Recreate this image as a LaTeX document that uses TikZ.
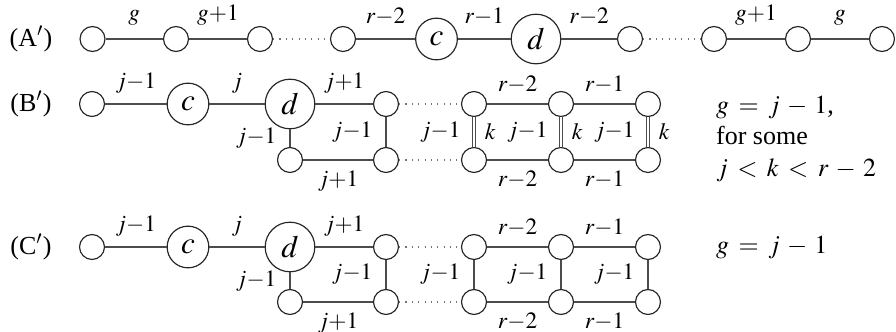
\documentclass[tikz,border=0pt]{standalone}
\usepackage{mathptmx}
\usepackage{fontspec}
\setmainfont{Liberation Serif}
\tikzset{
  vtx/.style={circle, draw=black!85, line width=0.45pt, minimum size=9.6pt, inner sep=0pt},
  big/.style={circle, draw=black!85, line width=0.45pt, inner sep=3pt, font=\large},
  link/.style={draw=black!70, line width=0.45pt},
  dots/.style={draw=black!55, dotted, line width=0.45pt},
  dbl/.style={draw=black!70, double, double distance=1.1pt, line width=0.4pt},
  wt/.style={inner sep=3pt, font=\small}
}

\begin{document}
\begin{tikzpicture}[x=0.385pt, y=-0.385pt]
  \useasboundingbox (0,0) rectangle (896,332);

  % (A')
  \node (la) at (31,39) {(A$'$)};
  \node[vtx] (a1) at (92.5,39) {};
  \node[vtx] (a2) at (176,39) {};
  \node[vtx] (a3) at (260,39) {};
  \node[vtx] (a4) at (343,39) {};
  \node[big] (ac) at (436.5,39) {$c$};
  \node[big] (ad) at (536,39) {$d$};
  \node[vtx] (a5) at (630,39) {};
  \node[vtx] (a6) at (714,39) {};
  \node[vtx] (a7) at (798,39) {};
  \node[vtx] (a8) at (882,39) {};
  \draw[link] (a1) -- node[wt, above=2pt]{$g$} (a2);
  \draw[link] (a2) -- node[wt, above=2pt]{$g{+}1$} (a3);
  \draw[dots] (a3) -- (a4);
  \draw[link] (a4) -- node[wt, above=2pt]{$r{-}2$} (ac);
  \draw[link] (ac) -- node[wt, above=2pt]{$r{-}1$} (ad);
  \draw[link] (ad) -- node[wt, above=2pt]{$r{-}2$} (a5);
  \draw[dots] (a5) -- (a6);
  \draw[link] (a6) -- node[wt, above=2pt]{$g{+}1$} (a7);
  \draw[link] (a7) -- node[wt, above=2pt]{$g$} (a8);

  % (B')
  \node (lb) at (31,104) {(B$'$)};
  \node[vtx] (b1) at (92,104) {};
  \node[big] (bc) at (188,104) {$c$};
  \node[big] (bd) at (290,104) {$d$};
  \node[vtx] (bt1) at (386,104) {};
  \node[vtx] (bt2) at (474,104) {};
  \node[vtx] (bt3) at (561,104) {};
  \node[vtx] (bt4) at (648,104) {};
  \node[vtx] (bb0) at (290,160) {};
  \node[vtx] (bb1) at (386,160) {};
  \node[vtx] (bb2) at (474,160) {};
  \node[vtx] (bb3) at (561,160) {};
  \node[vtx] (bb4) at (648,160) {};
  \draw[link] (b1) -- node[wt, above=1pt]{$j{-}1$} (bc);
  \draw[link] (bc) -- node[wt, above=1pt]{$j$} (bd);
  \draw[link] (bd) -- node[wt, above=1pt]{$j{+}1$} (bt1);
  \draw[link] (bd) -- node[wt, left=2pt]{$j{-}1$} (bb0);
  \draw[link] (bt1) -- node[wt, left=2pt]{$j{-}1$} (bb1);
  \draw[link] (bb0) -- node[wt, below=1pt]{$j{+}1$} (bb1);
  \draw[dots] (bt1) -- (bt2);
  \draw[dots] (bb1) -- (bb2);
  \draw[link] (bt2) -- node[wt, above=1pt]{$r{-}2$} (bt3);
  \draw[link] (bt3) -- node[wt, above=1pt]{$r{-}1$} (bt4);
  \draw[link] (bb2) -- node[wt, below=1pt]{$r{-}2$} (bb3);
  \draw[link] (bb3) -- node[wt, below=1pt]{$r{-}1$} (bb4);
  \draw[dbl] (bt2) -- node[wt, left=2pt]{$j{-}1$} node[wt, right=1pt]{$k$} (bb2);
  \draw[dbl] (bt3) -- node[wt, left=2pt]{$j{-}1$} node[wt, right=1pt]{$k$} (bb3);
  \draw[dbl] (bt4) -- node[wt, left=2pt]{$j{-}1$} node[wt, right=1pt]{$k$} (bb4);
  \node[anchor=west, align=left] (nb) at (707,139) {$g \:=\: j \:-\: 1$,\\for some\\$j \:<\: k \:<\: r \:-\: 2$};

  % (C')
  \node (lc) at (31,247) {(C$'$)};
  \node[vtx] (c1) at (92,247) {};
  \node[big] (cc) at (188,247) {$c$};
  \node[big] (cd) at (290,247) {$d$};
  \node[vtx] (ct1) at (386,247) {};
  \node[vtx] (ct2) at (474,247) {};
  \node[vtx] (ct3) at (561,247) {};
  \node[vtx] (ct4) at (648,247) {};
  \node[vtx] (cb0) at (290,302) {};
  \node[vtx] (cb1) at (386,302) {};
  \node[vtx] (cb2) at (474,302) {};
  \node[vtx] (cb3) at (561,302) {};
  \node[vtx] (cb4) at (648,302) {};
  \draw[link] (c1) -- node[wt, above=1pt]{$j{-}1$} (cc);
  \draw[link] (cc) -- node[wt, above=1pt]{$j$} (cd);
  \draw[link] (cd) -- node[wt, above=1pt]{$j{+}1$} (ct1);
  \draw[link] (cd) -- node[wt, left=2pt]{$j{-}1$} (cb0);
  \draw[link] (ct1) -- node[wt, left=2pt]{$j{-}1$} (cb1);
  \draw[link] (cb0) -- node[wt, below=1pt]{$j{+}1$} (cb1);
  \draw[dots] (ct1) -- (ct2);
  \draw[dots] (cb1) -- (cb2);
  \draw[link] (ct2) -- node[wt, above=1pt]{$r{-}2$} (ct3);
  \draw[link] (ct3) -- node[wt, above=1pt]{$r{-}1$} (ct4);
  \draw[link] (cb2) -- node[wt, below=1pt]{$r{-}2$} (cb3);
  \draw[link] (cb3) -- node[wt, below=1pt]{$r{-}1$} (cb4);
  \draw[link] (ct2) -- node[wt, left=2pt]{$j{-}1$} (cb2);
  \draw[link] (ct3) -- node[wt, left=2pt]{$j{-}1$} (cb3);
  \draw[link] (ct4) -- node[wt, left=2pt]{$j{-}1$} (cb4);
  \node[anchor=west] (nc) at (707,248) {$g \:=\: j \:-\: 1$};
\end{tikzpicture}
\end{document}
